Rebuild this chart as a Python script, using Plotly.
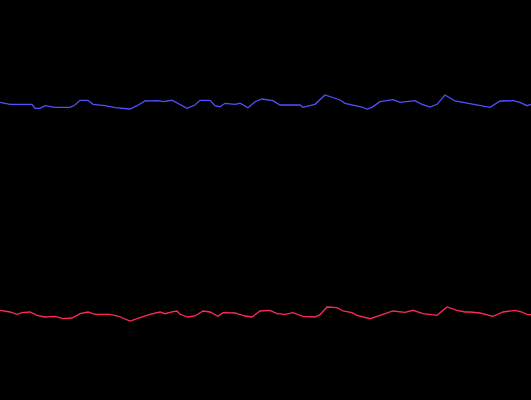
import plotly.graph_objects as go

# Данные: две серии
blue_x = [0, 10, 20, 32, 35, 40, 45, 50, 55, 70, 75, 80, 88, 93, 105, 115, 125, 130,
          137, 145, 158, 163, 172, 180, 187, 195, 200, 210, 215, 220, 225, 235, 240,
          248, 255, 262, 273, 280, 290, 300, 303, 315, 325, 333, 340, 345, 355, 362,
          367, 372, 380, 393, 400, 408, 415, 422, 430, 437, 445, 455, 470, 490, 500,
          513, 520, 527, 531]
blue_y = [297.7, 295.7, 295.7, 295.7, 291.7, 291.7, 294.3, 293.3, 292.7, 292.7, 295, 299.7,
          299.7, 295.7, 294.3, 292.3, 291, 291, 294.3, 299, 299.3, 298.3, 299.7, 295,
          291.7, 295, 299.7, 299.7, 294.3, 293.3, 296.7, 295.7, 296.7, 292.3, 298.3,
          301, 299.3, 295, 295, 295, 292.7, 295.7, 305, 302.3, 300, 296.7, 294.3, 293,
          291, 292.7, 298.3, 300.3, 297.7, 298.3, 299.3, 295.7, 293, 295.7, 305, 299,
          296, 292.7, 299, 299.3, 297.7, 294.3, 295.7]

red_x = [0, 10, 17, 22, 30, 37, 45, 55, 63, 72, 80, 88, 95, 110, 118, 125, 130, 140,
         150, 160, 165, 173, 177, 180, 188, 195, 203, 210, 218, 223, 235, 245, 252,
         260, 270, 277, 285, 293, 303, 315, 320, 327, 337, 343, 352, 357, 365, 370,
         380, 393, 405, 413, 423, 437, 447, 457, 465, 470, 480, 493, 503, 515, 522,
         527, 531]
red_y = [89.7, 88, 85.7, 87.3, 88, 84.7, 83, 83.7, 81.3, 82, 86.3, 88, 85.7, 85.7, 84,
         81.3, 79, 82.3, 85.7, 88, 86.3, 88.3, 89, 85.7, 83, 84, 89, 88, 83.7, 87.3,
         87, 84, 83, 89, 89.7, 86.3, 85.7, 87.3, 83.7, 83, 85.3, 93, 92.3, 89, 87.3,
         84.7, 83, 81.3, 84.7, 89, 87.7, 89.7, 86.3, 84.7, 93, 89.7, 88, 88, 87,
         83.7, 88, 89.7, 88, 85.7, 85.3]

fig = go.Figure()

fig.add_trace(go.Scatter(
    x=blue_x,
    y=blue_y,
    mode='lines',
    line=dict(color='#5050ff', width=1.3),
    showlegend=False
))

fig.add_trace(go.Scatter(
    x=red_x,
    y=red_y,
    mode='lines',
    line=dict(color='#ff2a55', width=1.3),
    showlegend=False
))

# Настройка графика: чёрный фон, без осей
fig.update_layout(
    width=531,
    height=400,
    margin=dict(l=0, r=0, t=0, b=0),
    paper_bgcolor='black',
    plot_bgcolor='black',
    xaxis=dict(visible=False, range=[0, 531]),
    yaxis=dict(visible=False, range=[0, 400]),
)

# убрать белые поля страницы и панель инструментов
fig.write_html(
    "out.html",
    config={'displayModeBar': False},
    post_script="document.body.style.margin='0';document.body.style.background='black';"
)
